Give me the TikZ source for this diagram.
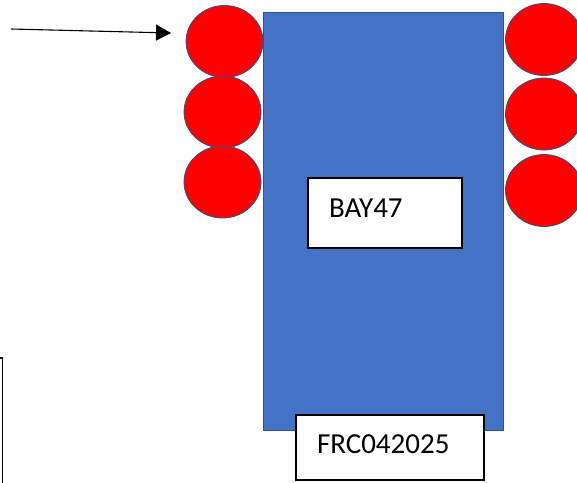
\documentclass[tikz,border=0pt]{standalone}
\usepackage{fontspec}
\setmainfont{Carlito}
\usetikzlibrary{arrows.meta,positioning,shapes.geometric}
\definecolor{baybl}{HTML}{4472C4}
\definecolor{edgebl}{HTML}{2F528F}
\begin{document}
\begin{tikzpicture}[
  x=1pt, y=-1pt,
  font=\fontsize{29}{34}\selectfont,
  bay/.style={draw=edgebl, fill=baybl, line width=0.8pt, inner sep=0pt},
  ball/.style={ellipse, draw=edgebl, fill=red, line width=0.8pt, inner sep=0pt,
    minimum width=77pt, minimum height=72pt},
  tag/.style={draw, fill=white, line width=1.1pt, align=left, inner xsep=21pt,
    inner ysep=0pt},
  arr/.style={-{Triangle[length=15pt, width=16pt]}, line width=1.1pt}
]
\useasboundingbox (0,0) rectangle (577,482);
% main bay body
\node[bay, minimum width=240pt, minimum height=418pt] (body) at (383,221) {};
% rollers on both sides
\node[ball] (l1) at (224.5,41.5) {};
\node[ball] (l2) at (222.5,112) {};
\node[ball] (l3) at (222.5,182) {};
\node[ball] (r1) at (544,39.5) {};
\node[ball] (r2) at (544,114) {};
\node[ball] (r3) at (544,190.5) {};
% labels
\node[tag, text width=112pt, minimum height=70pt, text depth=10pt] (bay47) at (385,213) {BAY47};
\node[tag, text width=146pt, minimum height=65pt, text depth=6pt] (frc) at (390,447.5) {FRC042025};
% cut-off frame at the lower left
\draw[line width=1.1pt] (-10,358) -| (2.5,492);
% pointer
\coordinate (tail) at (11,29);
\coordinate (tip) at (171,33);
\draw[arr] (tail) -- (tip);
\end{tikzpicture}
\end{document}
